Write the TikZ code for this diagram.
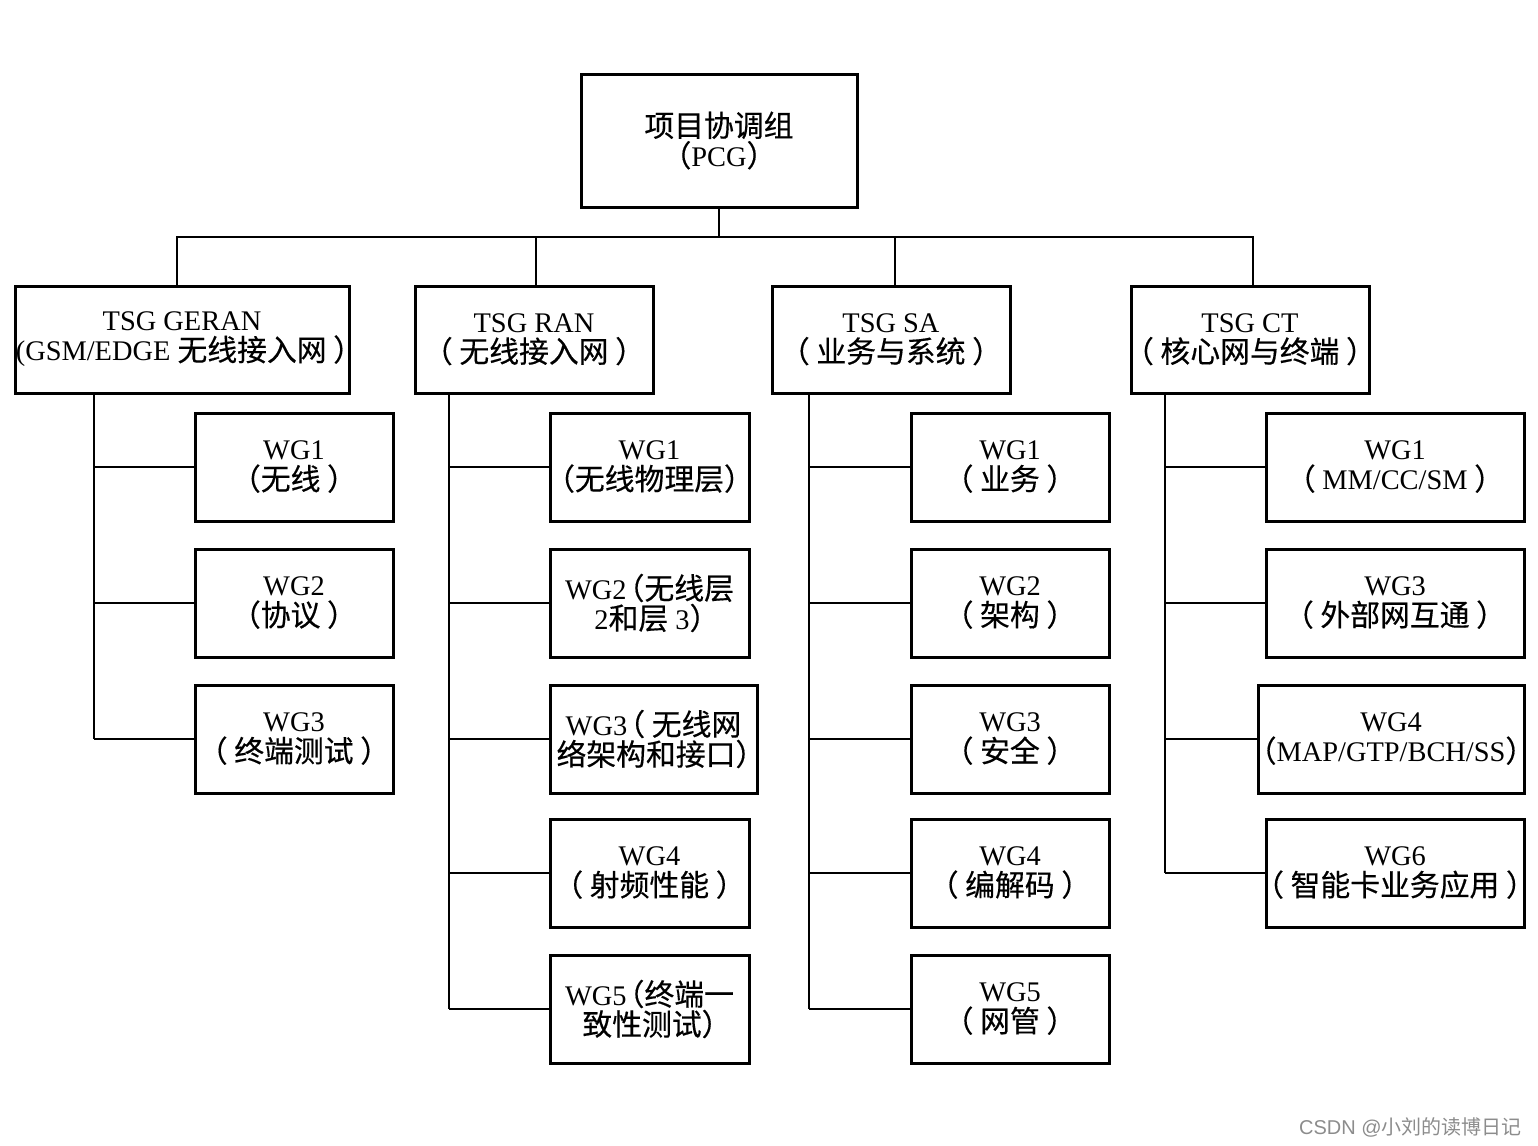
\documentclass[tikz,border=0pt]{standalone}
\usepackage{fontspec}
\setmainfont{Liberation Serif}
\newfontfamily\cjk{Noto Sans CJK SC}[Scale=1.05, FakeBold=0.4, RawFeature={+halt}]
\newfontfamily\wmcjk{Noto Sans CJK SC}
\newfontfamily\wmfont{Liberation Sans}
\newcommand{\zh}[1]{{\cjk #1}}
\begin{document}
\begin{tikzpicture}[x=0.5pt,y=-0.5pt,
  box/.style={draw, line width=1.5pt, inner sep=0pt, align=center,
    font=\fontsize{14.2}{15}\selectfont},
  conn/.style={line width=1pt}]
\useasboundingbox (0,0) rectangle (1538,1146);
% top
\node[box, minimum width=138pt, minimum height=66.5pt] (pcg) at (719,140.5) {\zh{项目协调组}\\\zh{（}PCG\zh{）}};
% TSG
\node[box, minimum width=167pt, minimum height=53.5pt] (geran) at (182,339.5) {TSG GERAN\\(GSM/EDGE \zh{无线接入网 ）}};
\node[box, minimum width=119pt, minimum height=53.5pt] (ran) at (534,339.5) {TSG RAN\\\zh{（ 无线接入网 ）}};
\node[box, minimum width=119pt, minimum height=53.5pt] (sa) at (891,339.5) {TSG SA\\\zh{（ 业务与系统 ）}};
\node[box, minimum width=119pt, minimum height=53.5pt] (ct) at (1250,339.5) {TSG CT\\\zh{（ 核心网与终端 ）}};
% GERAN WGs
\node[box, minimum width=99pt, minimum height=54pt] (g1) at (294,467) {WG1\\\zh{（无线 ）}};
\node[box, minimum width=99pt, minimum height=54pt] (g2) at (294,603) {WG2\\\zh{（协议 ）}};
\node[box, minimum width=99pt, minimum height=54pt] (g3) at (294,739) {WG3\\\zh{（ 终端测试 ）}};
% RAN WGs
\node[box, minimum width=99.5pt, minimum height=54pt] (r1) at (649.5,467) {WG1\\\zh{（无线物理层）}};
\node[box, minimum width=99.5pt, minimum height=54pt] (r2) at (649.5,603) {WG2\kern1.5pt\zh{（无线层}\\2\zh{和层} 3\zh{）}};
\node[box, minimum width=103.5pt, minimum height=54pt] (r3) at (653.5,739) {WG3\kern1.5pt\zh{（ 无线网}\\\zh{络架构和接口）}};
\node[box, minimum width=99.5pt, minimum height=54pt] (r4) at (649.5,873) {WG4\\\zh{（ 射频性能 ）}};
\node[box, minimum width=99.5pt, minimum height=54pt] (r5) at (649.5,1009) {WG5\kern1.5pt\zh{（终端一}\\\zh{致性测试）}};
% SA WGs
\node[box, minimum width=99pt, minimum height=54pt] (s1) at (1010,467) {WG1\\\zh{（ 业务 ）}};
\node[box, minimum width=99pt, minimum height=54pt] (s2) at (1010,603) {WG2\\\zh{（ 架构 ）}};
\node[box, minimum width=99pt, minimum height=54pt] (s3) at (1010,739) {WG3\\\zh{（ 安全 ）}};
\node[box, minimum width=99pt, minimum height=54pt] (s4) at (1010,873) {WG4\\\zh{（ 编解码 ）}};
\node[box, minimum width=99pt, minimum height=54pt] (s5) at (1010,1009) {WG5\\\zh{（ 网管 ）}};
% CT WGs
\node[box, minimum width=129pt, minimum height=54pt] (c1) at (1395,467) {WG1\\\zh{（ }MM/CC/SM\zh{ ）}};
\node[box, minimum width=129pt, minimum height=54pt] (c3) at (1395,603) {WG3\\\zh{（ 外部网互通 ）}};
\node[box, minimum width=133pt, minimum height=54pt] (c4) at (1391,739) {WG4\\\zh{（}MAP/GTP/BCH/SS\zh{）}};
\node[box, minimum width=129pt, minimum height=54pt] (c6) at (1395,873) {WG6\\\zh{（ 智能卡业务应用 ）}};
% connectors top
\coordinate (bus) at (0,237);
\coordinate (d1) at (177,237);
\coordinate (d2) at (536,237);
\coordinate (d3) at (895,237);
\coordinate (d4) at (1253,237);
\draw[conn] (pcg.south) -- (pcg.south |- bus);
\draw[conn] (d1 |- geran.north) -- (d1) -- (d4) -- (d4 |- ct.north);
\draw[conn] (d2) -- (d2 |- ran.north);
\draw[conn] (d3) -- (d3 |- sa.north);
% spines
\coordinate (sp1) at (94,0);
\coordinate (sp2) at (449,0);
\coordinate (sp3) at (809,0);
\coordinate (sp4) at (1165,0);
\draw[conn] (sp1 |- geran.south) -- (sp1 |- g3.west);
\foreach \n in {g1,g2,g3} \draw[conn] (sp1 |- \n.west) -- (\n.west);
\draw[conn] (sp2 |- ran.south) -- (sp2 |- r5.west);
\foreach \n in {r1,r2,r3,r4,r5} \draw[conn] (sp2 |- \n.west) -- (\n.west);
\draw[conn] (sp3 |- sa.south) -- (sp3 |- s5.west);
\foreach \n in {s1,s2,s3,s4,s5} \draw[conn] (sp3 |- \n.west) -- (\n.west);
\draw[conn] (sp4 |- ct.south) -- (sp4 |- c6.west);
\foreach \n in {c1,c3,c4,c6} \draw[conn] (sp4 |- \n.west) -- (\n.west);
% watermark
\node[text=black!45, font=\fontsize{10}{12}\selectfont, anchor=east, inner sep=0pt] (wm) at (1522,1127) {\wmfont CSDN @{\wmcjk 小刘的读博日记}};
\end{tikzpicture}
\end{document}
